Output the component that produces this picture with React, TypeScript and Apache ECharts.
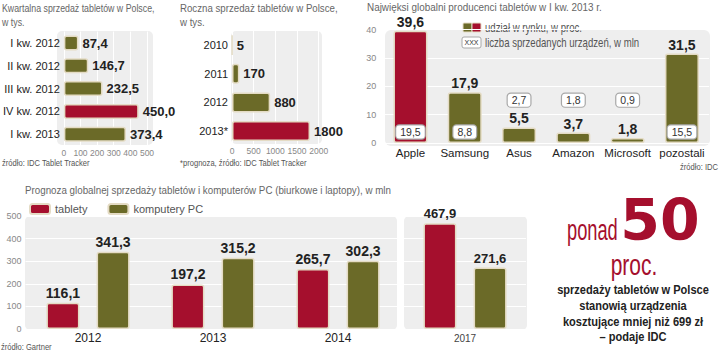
import React, { useEffect, useRef } from "react";
import * as echarts from "echarts";

const quarterCats = ["I kw. 2012", "II kw. 2012", "III kw. 2012", "IV kw. 2012", "I kw. 2013"];
const quarterValues = [87.4, 146.7, 232.5, 450.0, 373.4];
const quarterHighlight = "IV kw. 2012";

const yearCats = ["2010", "2011", "2012", "2013*"];
const yearValues = [5, 170, 880, 1800];
const yearHighlight = "2013*";

const vendorCats = ["Apple", "Samsung", "Asus", "Amazon", "Microsoft", "pozostali"];
const vendorShare = [39.6, 17.9, 5.5, 3.7, 1.8, 31.5];
const vendorUnits = [19.5, 8.8, 2.7, 1.8, 0.9, 15.5];
const vendorHighlight = "Apple";

const forecastYears = ["2012", "2013", "2014"];
const tabletForecast = [116.1, 197.2, 265.7];
const pcForecast = [341.3, 315.2, 302.3];
const lateYears = ["2017"];
const tabletLate = [467.9];
const pcLate = [271.6];

const RED = "#a50f2d";
const OLIVE = "#6b6a28";
const BORDER = "#e4dbc4";
const BG = "#eeeeee";
const LIB = "'Liberation Sans', Arial, sans-serif";
const dec = (v: number) => v.toFixed(1).replace(".", ",");

const valueLabel = {
  fontFamily: LIB,
  fontWeight: "bold" as const,
  fontSize: 13,
  color: "#222",
};

export default function App() {
  const ref = useRef<HTMLDivElement>(null);
  useEffect(() => {
    if (!ref.current) return;
    const chart = echarts.init(ref.current, undefined, { renderer: "svg" });
    const hiddenLine = { show: false };
    const whiteSplit = { show: true, lineStyle: { color: "#ffffff", width: 1 } };
    const grayTick = { color: "#888", fontSize: 9, fontFamily: LIB };
    const catLabel = { color: "#222", fontSize: 11, fontFamily: LIB };

    const txt = (
      x: number, y: number, text: string, size = 11, fill = "#666",
      align = "left", sx = 0.8, weight = "normal", family = LIB
    ) => ({
      type: "text",
      x,
      y,
      scaleX: sx,
      style: { text, fontSize: size, fill, fontFamily: family, fontWeight: weight, align, verticalAlign: "middle" },
    });

    const option: any = {
      animation: false,
      backgroundColor: "#ffffff",
      grid: [
        { left: 58, top: 31.6, width: 89, height: 114 },
        { left: 232, top: 30.7, width: 86.7, height: 114.7 },
        { left: 383.3, top: 29.5, width: 325.8, height: 113.5 },
        { left: 25.5, top: 216, width: 375, height: 113 },
        { left: 404, top: 216, width: 122, height: 113 },
      ],
      xAxis: [
        {
          gridIndex: 0, type: "value", min: 0, max: 500, interval: 100,
          axisLine: hiddenLine, axisTick: hiddenLine, splitLine: whiteSplit,
          axisLabel: { ...grayTick, fontSize: 8.5, margin: 3, showMaxLabel: true, formatter: (v: number) => String(v) },
        },
        {
          gridIndex: 1, type: "value", min: 0, max: 2000, interval: 500,
          axisLine: hiddenLine, axisTick: hiddenLine, splitLine: whiteSplit,
          axisLabel: { ...grayTick, fontSize: 8.5, margin: 1, showMaxLabel: true, formatter: (v: number) => String(v) },
        },
        {
          gridIndex: 2, type: "category", data: vendorCats,
          axisLine: hiddenLine, axisTick: hiddenLine,
          axisLabel: { ...catLabel, fontSize: 11.5, margin: 4, interval: 0 },
        },
        {
          gridIndex: 3, type: "category", data: forecastYears,
          axisLine: hiddenLine, axisTick: hiddenLine,
          axisLabel: { ...catLabel, fontSize: 12, margin: 3, interval: 0 },
        },
        {
          gridIndex: 4, type: "category", data: lateYears,
          axisLine: hiddenLine, axisTick: hiddenLine,
          axisLabel: { color: "#444", fontSize: 10, fontFamily: LIB, margin: 4 },
        },
      ],
      yAxis: [
        {
          gridIndex: 0, type: "category", data: quarterCats, inverse: true,
          axisLine: hiddenLine, axisTick: hiddenLine,
          axisLabel: { ...catLabel, margin: 4, interval: 0 },
        },
        {
          gridIndex: 1, type: "category", data: yearCats, inverse: true,
          axisLine: hiddenLine, axisTick: hiddenLine,
          axisLabel: { ...catLabel, margin: 4, interval: 0 },
        },
        {
          gridIndex: 2, type: "value", min: 0, max: 40, interval: 10,
          axisLine: hiddenLine, axisTick: hiddenLine, splitLine: whiteSplit,
          axisLabel: { ...grayTick, margin: 7 },
        },
        {
          gridIndex: 3, type: "value", min: 0, max: 500, interval: 100,
          axisLine: hiddenLine, axisTick: hiddenLine, splitLine: whiteSplit,
          axisLabel: { ...grayTick, margin: 4 },
        },
        {
          gridIndex: 4, type: "value", min: 0, max: 500, interval: 100,
          axisLine: hiddenLine, axisTick: hiddenLine, splitLine: whiteSplit,
          axisLabel: { show: false },
        },
      ],
      legend: {
        left: 29, top: 203, padding: 0, itemWidth: 20, itemHeight: 10, itemGap: 20, icon: "roundRect",
        data: ["tablety", "komputery PC"],
        textStyle: { color: "#555", fontSize: 11, fontFamily: LIB },
        selectedMode: false,
      },
      series: [
        {
          type: "bar", xAxisIndex: 0, yAxisIndex: 0, barWidth: 15,
          data: quarterValues.map((v, i) => ({
            value: v,
            itemStyle: { color: quarterCats[i] === quarterHighlight ? RED : OLIVE },
          })),
          itemStyle: { borderColor: BORDER, borderWidth: 1.5, borderRadius: 2 },
          label: { show: true, position: "right", distance: 4, formatter: (p: any) => dec(p.value), ...valueLabel },
        },
        {
          type: "bar", xAxisIndex: 1, yAxisIndex: 1, barWidth: 20,
          data: yearValues.map((v, i) => ({
            value: v,
            itemStyle: { color: yearCats[i] === yearHighlight ? RED : OLIVE },
          })),
          itemStyle: { borderColor: BORDER, borderWidth: 1.5, borderRadius: 2 },
          label: { show: true, position: "right", distance: 4, formatter: (p: any) => String(p.value), ...valueLabel },
        },
        {
          type: "bar", xAxisIndex: 2, yAxisIndex: 2, barWidth: 34,
          data: vendorShare.map((v, i) => ({
            value: v,
            itemStyle: { color: vendorCats[i] === vendorHighlight ? RED : OLIVE },
          })),
          itemStyle: { borderColor: BORDER, borderWidth: 1.5, borderRadius: 2 },
          label: { show: true, position: "top", distance: 2, formatter: (p: any) => dec(p.value), ...valueLabel, fontSize: 14 },
        },
        {
          type: "custom", xAxisIndex: 2, yAxisIndex: 2, z: 5,
          data: vendorUnits.map((u, i) => [i, u, vendorShare[i]]),
          renderItem: (params: any, api: any) => {
            const idx = api.value(0);
            const units = api.value(1);
            const share = api.value(2);
            const pos = api.coord([idx, share > 10 ? 3.9 : 15.1]);
            return {
              type: "text",
              x: pos[0],
              y: pos[1],
              style: {
                text: dec(units), align: "center", verticalAlign: "middle",
                fontSize: 10.5, fill: "#333", fontFamily: LIB,
                backgroundColor: "#ffffff", borderColor: "#a8a8a8", borderWidth: 1.2,
                borderRadius: 3, padding: [1, 4, 1, 4],
              },
            };
          },
        },
        {
          name: "tablety", type: "bar", xAxisIndex: 3, yAxisIndex: 3, barWidth: 33, barGap: "52%",
          data: tabletForecast, itemStyle: { color: RED, borderColor: BORDER, borderWidth: 1.5, borderRadius: 2 },
          label: { show: true, position: "top", distance: 3, formatter: (p: any) => dec(p.value), ...valueLabel, fontSize: 14 },
        },
        {
          name: "komputery PC", type: "bar", xAxisIndex: 3, yAxisIndex: 3, barWidth: 33, barGap: "52%",
          data: pcForecast, itemStyle: { color: OLIVE, borderColor: BORDER, borderWidth: 1.5, borderRadius: 2 },
          label: { show: true, position: "top", distance: 3, formatter: (p: any) => dec(p.value), ...valueLabel, fontSize: 14 },
        },
        {
          name: "tablety", type: "bar", xAxisIndex: 4, yAxisIndex: 4, barWidth: 33, barGap: "52%",
          data: tabletLate, itemStyle: { color: RED, borderColor: BORDER, borderWidth: 1.5, borderRadius: 2 },
          label: { show: true, position: "top", distance: 3, formatter: (p: any) => dec(p.value), ...valueLabel },
        },
        {
          name: "komputery PC", type: "bar", xAxisIndex: 4, yAxisIndex: 4, barWidth: 33, barGap: "52%",
          data: pcLate, itemStyle: { color: OLIVE, borderColor: BORDER, borderWidth: 1.5, borderRadius: 2 },
          label: { show: true, position: "top", distance: 3, formatter: (p: any) => dec(p.value), ...valueLabel },
        },
      ],
      graphic: [
        { type: "rect", z: -10, shape: { x: 57, y: 31, width: 96, height: 114, r: 5 }, style: { fill: BG } },
        { type: "rect", z: -10, shape: { x: 231, y: 31, width: 91, height: 113, r: 5 }, style: { fill: BG } },
        { type: "rect", z: -10, shape: { x: 385, y: 30, width: 325, height: 116, r: 6 }, style: { fill: BG } },
        { type: "rect", z: -10, shape: { x: 25, y: 216, width: 372, height: 114, r: 5 }, style: { fill: BG } },
        { type: "rect", z: -10, shape: { x: 404, y: 216, width: 123, height: 114, r: 5 }, style: { fill: BG } },

        txt(2, 8, "Kwartalna sprzedaż tabletów w Polsce,"),
        txt(2, 22, "w tys."),
        txt(2, 163, "źródło: IDC Tablet Tracker", 9.5, "#555"),
        txt(180, 8, "Roczna sprzedaż tabletów w Polsce,", 11, "#666", "left", 0.88),
        txt(180, 22, "w tys.", 11, "#666", "left", 0.88),
        txt(180, 163, "*prognoza, źródło: IDC Tablet Tracker", 9.5, "#555"),
        txt(367, 7, "Najwięksi globalni producenci tabletów w I kw. 2013 r.", 11, "#666", "left", 0.9),
        txt(718, 167, "źródło: IDC", 9.5, "#555", "right"),
        txt(25, 190, "Prognoza globalnej sprzedaży tabletów i komputerów PC (biurkowe i laptopy), w mln", 11, "#666", "left", 0.89),
        txt(1, 347, "źródło: Gartner", 9.5, "#555"),

        { type: "rect", shape: { x: 463, y: 23, width: 9, height: 9, r: 1 }, style: { fill: OLIVE, stroke: BORDER, lineWidth: 1 } },
        { type: "rect", shape: { x: 472, y: 23, width: 9, height: 9, r: 1 }, style: { fill: RED, stroke: BORDER, lineWidth: 1 } },
        txt(485, 27.5, "udział w rynku, w proc.", 12, "#555"),
        { type: "rect", shape: { x: 462, y: 37, width: 19, height: 11, r: 2 }, style: { fill: "#fff", stroke: "#a8a8a8", lineWidth: 1 } },
        { type: "text", x: 471.5, y: 42.5, style: { text: "XXX", fontSize: 7, fill: "#333", fontFamily: LIB, align: "center", verticalAlign: "middle" } },
        txt(485, 43, "liczba sprzedanych urządzeń, w mln", 12, "#555"),

        txt(567, 230, "ponad", 29, RED, "left", 0.63),
        txt(660, 220, "50", 57, RED, "center", 1, "bold", "'DejaVu Sans', sans-serif"),
        txt(634, 265, "proc.", 30, RED, "center", 0.7),
        txt(633, 290, "sprzedaży tabletów w Polsce", 13.5, "#222", "center", 0.82, "bold"),
        txt(633, 306, "stanowią urządzenia", 13.5, "#222", "center", 0.82, "bold"),
        txt(633, 322, "kosztujące mniej niż 699 zł", 13.5, "#222", "center", 0.82, "bold"),
        txt(633, 337, "– podaje IDC", 13.5, "#222", "center", 0.82, "bold"),
      ],
    };
    chart.setOption(option);
    return () => chart.dispose();
  }, []);
  return <div ref={ref} style={{ position: "fixed", left: 0, top: 0, width: 720, height: 352 }} />;
}
